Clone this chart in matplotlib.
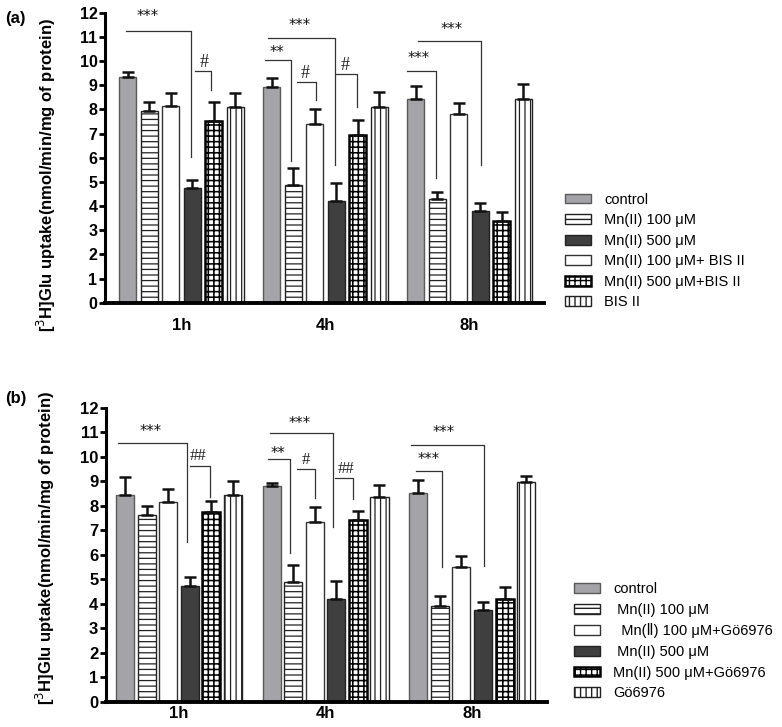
import matplotlib
matplotlib.use("Agg")
import matplotlib.pyplot as plt
from matplotlib.patches import Patch
import numpy as np

# ---------------- data ----------------
groups = ["1h", "4h", "8h"]

# panel (a) -- bar order
a_labels = ["control", "Mn(II) 100 \u03bcM", "Mn(II) 100 \u03bcM+ BIS II",
            "Mn(II) 500 \u03bcM", "Mn(II) 500 \u03bcM+BIS II", "BIS II"]
a_styles = ["control", "mn100", "mn100_inh", "mn500", "mn500_inh", "inh"]
a_control = [9.36, 8.91, 8.44]
a_mn100 = [7.92, 4.88, 4.29]
a_mn100_bis = [8.16, 7.39, 7.82]
a_mn500 = [4.74, 4.22, 3.79]
a_mn500_bis = [7.52, 6.95, 3.40]
a_bis = [8.08, 8.08, 8.43]
a_control_err = [0.18, 0.37, 0.51]
a_mn100_err = [0.38, 0.69, 0.31]
a_mn100_bis_err = [0.50, 0.61, 0.43]
a_mn500_err = [0.35, 0.72, 0.33]
a_mn500_bis_err = [0.80, 0.62, 0.37]
a_bis_err = [0.58, 0.65, 0.60]
a_legend_order = [0, 1, 3, 2, 4, 5]

# panel (b) -- bar order
b_labels = ["control", " Mn(II) 100 \u03bcM", "  Mn(\u2161) 100 \u03bcM+G\u00f66976",
            " Mn(II) 500 \u03bcM", "Mn(II) 500 \u03bcM+G\u00f66976", "G\u00f66976"]
b_styles = ["control", "mn100", "mn100_inh", "mn500", "mn500_inh", "inh"]
b_control = [8.45, 8.80, 8.52]
b_mn100 = [7.63, 4.90, 3.92]
b_mn100_go = [8.15, 7.33, 5.50]
b_mn500 = [4.72, 4.19, 3.76]
b_mn500_go = [7.76, 7.40, 4.18]
b_go = [8.42, 8.36, 8.97]
b_control_err = [0.71, 0.13, 0.51]
b_mn100_err = [0.37, 0.70, 0.38]
b_mn100_go_err = [0.53, 0.63, 0.46]
b_mn500_err = [0.37, 0.72, 0.32]
b_mn500_go_err = [0.42, 0.37, 0.52]
b_go_err = [0.58, 0.50, 0.24]
b_legend_order = [0, 1, 2, 3, 4, 5]

# significance marks: (x_start, x_end, y_line, y_drop, label, text_x, text_y)
a_marks = [
    (-0.387, 0.068, 11.25, 6.05, "***", -0.233, 11.85),
    (0.094, 0.205, 9.60, 8.80, "#", 0.158, 9.95),
    (0.580, 0.760, 10.05, 5.85, "**", 0.661, 10.36),
    (0.600, 1.066, 10.95, 5.71, "***", 0.823, 11.46),
    (0.800, 0.934, 9.13, 8.37, "#", 0.858, 9.48),
    (1.073, 1.217, 9.47, 8.08, "#", 1.135, 9.82),
    (1.564, 1.767, 9.60, 5.18, "***", 1.645, 10.12),
    (1.642, 2.080, 10.81, 5.71, "***", 1.876, 11.30),
]
b_marks = [
    (-0.414, 0.053, 10.55, 6.53, "***", -0.192, 11.02),
    (0.075, 0.212, 9.63, 8.34, "##", 0.132, 10.02),
    (0.610, 0.758, 9.90, 6.06, "**", 0.676, 10.12),
    (0.621, 1.053, 10.98, 7.12, "***", 0.826, 11.36),
    (0.808, 0.928, 9.49, 8.30, "#", 0.865, 9.85),
    (1.065, 1.190, 9.12, 8.26, "##", 1.138, 9.50),
    (1.618, 1.793, 9.42, 5.49, "***", 1.702, 9.87),
    (1.582, 2.077, 10.48, 5.55, "***", 1.804, 10.98),
]

# ---------------- styling ----------------
plt.rcParams["font.family"] = ["Liberation Sans", "DejaVu Sans"]

STYLE = {
    "control":   dict(facecolor="#a4a4a8", edgecolor="#5a5a5a", hatch=None, lw=1.0, hlw=1.0),
    "mn100":     dict(facecolor="white", edgecolor="#222222", hatch="---", lw=1.0, hlw=0.9),
    "mn100_inh": dict(facecolor="white", edgecolor="#333333", hatch=None, lw=1.0, hlw=1.0),
    "mn500":     dict(facecolor="#3f3f3f", edgecolor="#222222", hatch=None, lw=1.0, hlw=1.0),
    "mn500_inh": dict(facecolor="white", edgecolor="black", hatch="+++", lw=1.8, hlw=1.15),
    "inh":       dict(facecolor="white", edgecolor="#222222", hatch="|||", lw=1.0, hlw=0.9),
}


def make_patch_kwargs(key):
    s = STYLE[key]
    return dict(facecolor=s["facecolor"], edgecolor=s["edgecolor"],
                hatch=s["hatch"], linewidth=s["lw"])


def draw_panel(ax, labels, styles, means, errs, marks, legend_order,
               xlim, width, step, legend_anchor, tick_fs, hash_fs, xpad):
    x = np.arange(len(groups))
    n = len(labels)
    offsets = (np.arange(n) - (n - 1) / 2) * step
    handles = []
    for i in range(n):
        key = styles[i]
        s = STYLE[key]
        with plt.rc_context({"hatch.linewidth": s["hlw"]}):
            bars = ax.bar(x + offsets[i], means[i], width, **make_patch_kwargs(key),
                          zorder=2)
            for b in bars:
                try:
                    b.set_hatch_linewidth(s["hlw"])
                except Exception:
                    pass
            ax.errorbar(x + offsets[i], means[i],
                        yerr=[np.zeros(len(groups)), errs[i]],
                        fmt="none", ecolor="#111111", elinewidth=1.8,
                        capsize=4.5, capthick=1.8, zorder=3)
            h = Patch(label=labels[i], **make_patch_kwargs(key))
            try:
                h.set_hatch_linewidth(s["hlw"])
            except Exception:
                pass
        handles.append(h)

    for (x0, x1, yl, yd, lab, tx, ty) in marks:
        ax.plot([x0, x1, x1], [yl, yl, yd], color="#333333", lw=0.9, zorder=4,
                clip_on=False)
        if "#" in lab:
            ax.text(tx, ty, lab, ha="center", va="center", fontsize=hash_fs,
                    family=["Liberation Serif", "DejaVu Serif"], color="#222222")
        else:
            ax.text(tx, ty, lab, ha="center", va="center", fontsize=10.5,
                    family=["DejaVu Sans"], color="#111111")

    ax.set_xlim(*xlim)
    ax.set_ylim(0, 12)
    ax.set_yticks(np.arange(0, 13, 1))
    ax.set_xticks(x)
    ax.set_xticklabels(groups, fontsize=12, fontweight="bold")
    for lbl in ax.get_yticklabels():
        lbl.set_fontweight("bold")
        lbl.set_fontsize(tick_fs)
    ax.tick_params(axis="y", length=4, width=2, pad=1.5)
    ax.tick_params(axis="x", length=0, pad=xpad)
    for sp in ("top", "right"):
        ax.spines[sp].set_visible(False)
    ax.spines["left"].set_linewidth(2.2)
    ax.spines["bottom"].set_linewidth(2.8)

    leg_handles = [handles[i] for i in legend_order]
    fig = ax.figure
    fig.legend(handles=leg_handles, loc="upper left",
               bbox_to_anchor=legend_anchor, bbox_transform=fig.transFigure,
               frameon=False, fontsize=10.5, borderpad=0, borderaxespad=0,
               handlelength=1.75, handleheight=0.65, handletextpad=0.95,
               labelspacing=0.45)


fig = plt.figure(figsize=(7.82, 7.27), dpi=100)

ax_a = fig.add_axes([0.1343, 0.5836, 0.5614, 0.3989])
draw_panel(ax_a, a_labels, a_styles,
           [a_control, a_mn100, a_mn100_bis, a_mn500, a_mn500_bis, a_bis],
           [a_control_err, a_mn100_err, a_mn100_bis_err, a_mn500_err, a_mn500_bis_err, a_bis_err],
           a_marks, a_legend_order, xlim=(-0.53, 2.517), width=0.118, step=0.149,
           legend_anchor=(0.7225, 0.735), tick_fs=11.5, hash_fs=13, xpad=11)
ax_a.set_ylabel("[$^{3}$H]Glu uptake(nmol/min/mg of protein)", fontsize=12,
                fontweight="bold")
ax_a.yaxis.set_label_coords(-0.107, 0.441)

ax_b = fig.add_axes([0.1355, 0.0348, 0.5640, 0.4044])
draw_panel(ax_b, b_labels, b_styles,
           [b_control, b_mn100, b_mn100_go, b_mn500, b_mn500_go, b_go],
           [b_control_err, b_mn100_err, b_mn100_go_err, b_mn500_err, b_mn500_go_err, b_go_err],
           b_marks, b_legend_order, xlim=(-0.498, 2.51), width=0.123, step=0.147,
           legend_anchor=(0.734, 0.199), tick_fs=12, hash_fs=12, xpad=3)
ax_b.set_ylabel("[$^{3}$H]Glu uptake(nmol/min/mg of protein)", fontsize=12,
                fontweight="bold")
ax_b.yaxis.set_label_coords(-0.112, 0.523)

fig.text(0.006, 0.975, "(a)", fontsize=12, fontweight="bold", va="center", ha="left")
fig.text(0.006, 0.4525, "(b)", fontsize=12, fontweight="bold", va="center", ha="left")

fig.savefig("out.png", dpi=100)
